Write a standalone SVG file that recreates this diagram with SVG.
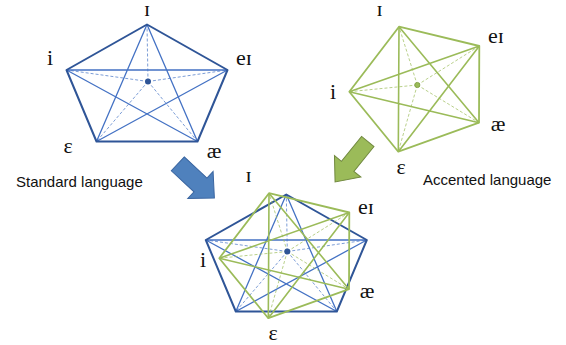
<svg xmlns="http://www.w3.org/2000/svg" xmlns:xlink="http://www.w3.org/1999/xlink" width="566" height="345" viewBox="0 0 566 345">
<style>
.bo{fill:none;stroke:#2F5597;stroke-width:2;stroke-linejoin:round}
.bd{fill:none;stroke:#4472C4;stroke-width:1.3}
.bs{fill:none;stroke:#4472C4;stroke-width:0.7;stroke-dasharray:3 2}
.go{fill:none;stroke:#9BBB59;stroke-width:1.8;stroke-linejoin:round}
.gd{fill:none;stroke:#9BBB59;stroke-width:1.6}
.gs{fill:none;stroke:#9BBB59;stroke-width:0.7;stroke-dasharray:3 2}
.lab{font-family:"Liberation Serif","DejaVu Serif",serif;font-size:22px;fill:#111;text-anchor:middle}
.cap{font-family:"Liberation Sans","Open Sans",sans-serif;font-size:15px;fill:#111}
</style>
<defs>
<g id="bluePent">
<path class="bs" d="M148,81.5 L147,24.5 M148,81.5 L66.5,70 M148,81.5 L227.5,70 M148,81.5 L96.5,141.5 M148,81.5 L197.5,141.5"/>
<path class="bd" d="M66.5,70 L227.5,70 M147,24.5 L96.5,141.5 M147,24.5 L197.5,141.5 M66.5,70 L197.5,141.5 M227.5,70 L96.5,141.5"/>
<path class="bo" d="M147,24.5 L227.5,70 L197.5,141.5 L96.5,141.5 L66.5,70 Z"/>
</g>
<g id="greenPent">
<path class="gs" d="M417.3,85 L399,26.7 M417.3,85 L479.3,46 M417.3,85 L349.3,91.7 M417.3,85 L479,122.7 M417.3,85 L398.3,151.7"/>
<path class="gd" d="M399,26.7 L398.3,151.7 M399,26.7 L479,122.7 M349.3,91.7 L479.3,46 M349.3,91.7 L479,122.7 M479.3,46 L398.3,151.7"/>
<path class="go" d="M399,26.7 L479.3,46 L479,122.7 L398.3,151.7 L349.3,91.7 Z"/>
</g>
</defs>

<g id="standard">
<use xlink:href="#bluePent"/>
<circle cx="148" cy="81.5" r="3" fill="#2F5597"/>
<text class="lab" x="147" y="16">ɪ</text>
<text class="lab" x="50" y="65">i</text>
<text class="lab" x="244" y="65">eɪ</text>
<text class="lab" x="68" y="153">ε</text>
<text class="lab" x="214" y="158">æ</text>
<text class="cap" x="16" y="187">Standard language</text>
</g>

<g id="accented">
<use xlink:href="#greenPent"/>
<circle cx="417.3" cy="85" r="2.6" fill="#9BBB59" stroke="#7A9A3E" stroke-width="0.8"/>
<text class="lab" x="379.5" y="16">ɪ</text>
<text class="lab" x="496" y="43">eɪ</text>
<text class="lab" x="333" y="99">i</text>
<text class="lab" x="498" y="131">æ</text>
<text class="lab" x="401" y="174">ε</text>
<text class="cap" x="423" y="185">Accented language</text>
</g>

<g id="combined">
<use xlink:href="#bluePent" transform="translate(139.3,170)"/>
<use xlink:href="#greenPent" transform="translate(-130,166.5)"/>
<circle cx="287.3" cy="251.5" r="3" fill="#2F5597"/>
<text class="lab" x="248.5" y="182">ɪ</text>
<text class="lab" x="366" y="214">eɪ</text>
<text class="lab" x="203" y="267">i</text>
<text class="lab" x="367" y="298">æ</text>
<text class="lab" x="273" y="340">ε</text>
</g>

<g id="connectors">
<path d="M0,-9.5 L31,-9.5 L31,-18.5 L50,0 L31,18.5 L31,9.5 L0,9.5 Z" transform="translate(177.8,163.8) rotate(43)" fill="#4F81BD" stroke="#3A65A0" stroke-width="1" stroke-linejoin="miter"/>
<path d="M0,-8 L32,-8 L32,-17 L52,0 L32,17 L32,8 L0,8 Z" transform="translate(367.8,141.5) rotate(129)" fill="#9BBB59" stroke="#71893F" stroke-width="1" stroke-linejoin="miter"/>
</g>
</svg>
